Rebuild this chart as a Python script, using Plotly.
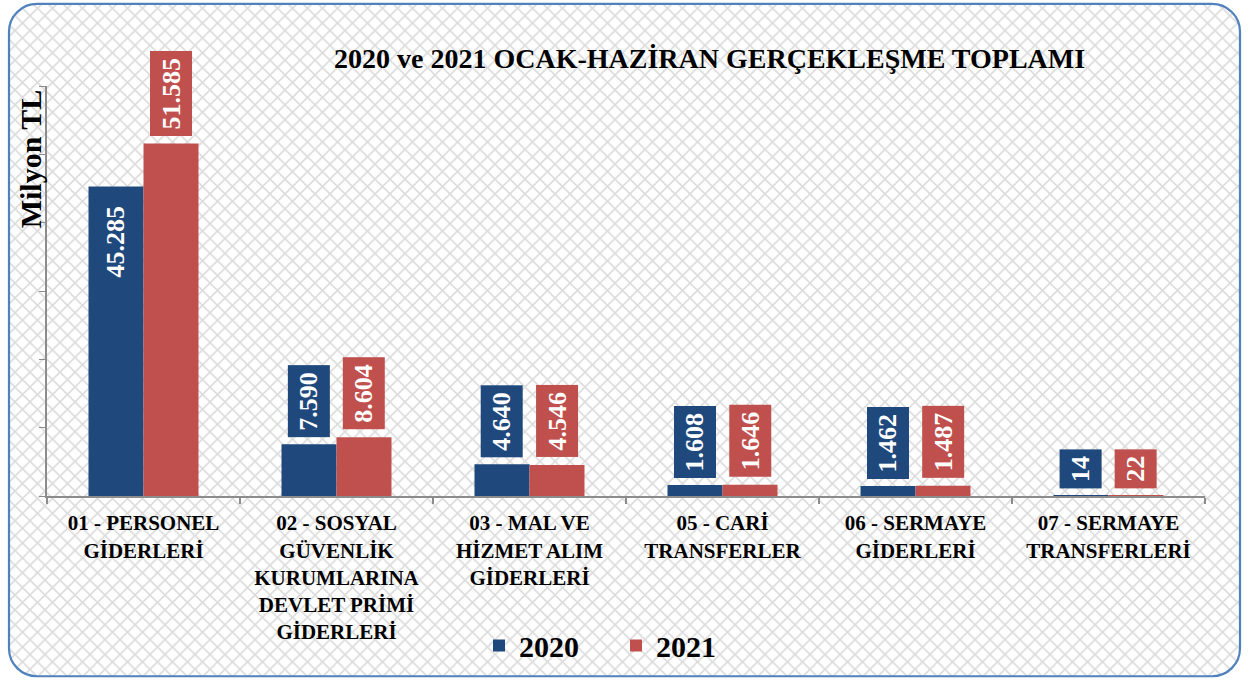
import base64
import plotly.graph_objects as go

categories = [
    "01 - PERSONEL<br>GİDERLERİ",
    "02 - SOSYAL<br>GÜVENLİK<br>KURUMLARINA<br>DEVLET PRİMİ<br>GİDERLERİ",
    "03 - MAL VE<br>HİZMET ALIM<br>GİDERLERİ",
    "05 - CARİ<br>TRANSFERLER",
    "06 - SERMAYE<br>GİDERLERİ",
    "07 - SERMAYE<br>TRANSFERLERİ",
]
values_2020 = [45285, 7590, 4640, 1608, 1462, 14]
values_2021 = [51585, 8604, 4546, 1646, 1487, 22]
labels_2020 = ["45.285", "7.590", "4.640", "1.608", "1.462", "14"]
labels_2021 = ["51.585", "8.604", "4.546", "1.646", "1.487", "22"]
inside_2020 = [True, False, False, False, False, False]
inside_2021 = [False, False, False, False, False, False]

W, H = 1250, 684
ML, MR, MT, MB = 47, 45, 86, 184
PW, PH = W - ML - MR, H - MT - MB

C2020 = "#1F497D"
C2021 = "#C0504D"
SERIF = "Liberation Serif, Times New Roman, serif"
BARGAP = 0.43

# background: diamond hatch inside rounded border
svg = f'''<svg xmlns="http://www.w3.org/2000/svg" width="{W}" height="{H}" viewBox="0 0 {W} {H}">
<defs>
<pattern id="p" width="15" height="15" patternUnits="userSpaceOnUse">
<path d="M0,0 L15,15 M15,0 L0,15" stroke="#dcdcdc" stroke-width="1.6" fill="none"/>
</pattern>
<clipPath id="c"><rect x="9" y="3" width="1231" height="679" rx="28" ry="28"/></clipPath>
</defs>
<rect x="0" y="0" width="{W}" height="{H}" fill="white"/>
<g clip-path="url(#c)"><rect x="0" y="0" width="{W}" height="{H}" fill="url(#p)"/></g>
<rect x="9" y="3" width="1231" height="679" rx="28" ry="28" fill="none" stroke="#4F81BD" stroke-width="2.2"/>
</svg>'''
src = "data:image/svg+xml;base64," + base64.b64encode(svg.encode()).decode()

fig = go.Figure()
fig.add_trace(go.Bar(name="<b>2020</b>", x=categories, y=values_2020, marker_color=C2020,
                     marker_line_width=0))
fig.add_trace(go.Bar(name="<b>2021</b>", x=categories, y=values_2021, marker_color=C2021,
                     marker_line_width=0))

cat_px = PW / len(categories)
shift = cat_px * (1 - BARGAP) / 4

annotations = []
for vals, labs, ins, col, sgn in [(values_2020, labels_2020, inside_2020, C2020, -1),
                                  (values_2021, labels_2021, inside_2021, C2021, 1)]:
    for c, v, l, i in zip(categories, vals, labs, ins):
        annotations.append(dict(
            x=c, y=v, xref="x", yref="y", text=f"<b>{l}</b>", showarrow=False,
            textangle=-90, xshift=sgn * shift,
            yanchor="top" if i else "bottom", yshift=-12 if i else 7,
            bgcolor=col, borderpad=6,
            font=dict(family=SERIF, size=26, color="white"),
        ))

annotations.append(dict(
    x=(709 - ML) / PW, y=(MT + PH - 58) / PH, xref="paper", yref="paper",
    text="<b>2020 ve 2021 OCAK-HAZİRAN GERÇEKLEŞME TOPLAMI</b>", showarrow=False,
    font=dict(family=SERIF, size=28, color="black"), xanchor="center", yanchor="middle"))
annotations.append(dict(
    x=(30 - ML) / PW, y=(MT + PH - 160) / PH, xref="paper", yref="paper",
    text="<b>Milyon TL</b>", showarrow=False, textangle=-90,
    font=dict(family=SERIF, size=30, color="black"), xanchor="center", yanchor="middle"))

fig.update_layout(
    width=W, height=H,
    margin=dict(l=ML, r=MR, t=MT, b=MB),
    paper_bgcolor="white", plot_bgcolor="rgba(0,0,0,0)",
    barmode="group", bargap=BARGAP, bargroupgap=0,
    showlegend=True,
    legend=dict(orientation="h", x=(479 - ML) / PW, y=(MT + PH - 651) / PH,
                xanchor="left", yanchor="middle",
                font=dict(family=SERIF, size=30, color="black"),
                entrywidth=92, entrywidthmode="pixels",
                bgcolor="rgba(0,0,0,0)"),
    annotations=annotations,
    images=[dict(source=src, xref="paper", yref="paper", x=-ML / PW, y=1 + MT / PH,
                 sizex=W / PW, sizey=H / PH, xanchor="left", yanchor="top",
                 sizing="stretch", layer="below")],
    xaxis=dict(showline=True, linecolor="#8c8c8c", linewidth=2, ticks="outside",
               tickson="boundaries", ticklen=6, tickcolor="#8c8c8c", tickwidth=2,
               tickfont=dict(family=SERIF, size=21, color="black"),
               ticklabelstandoff=7,
               showgrid=False, tickangle=0),
    yaxis=dict(range=[0, 60000], dtick=10000, showline=True, linecolor="#8c8c8c",
               linewidth=2, ticks="outside", ticklen=6, tickcolor="#8c8c8c", tickwidth=1,
               showticklabels=False, showgrid=False, zeroline=False),
)
fig.update_xaxes(tickprefix="<b>", ticksuffix="</b>")

fig.write_html("out.html", config={"displayModeBar": False},
               post_script="document.body.style.margin='0';")
